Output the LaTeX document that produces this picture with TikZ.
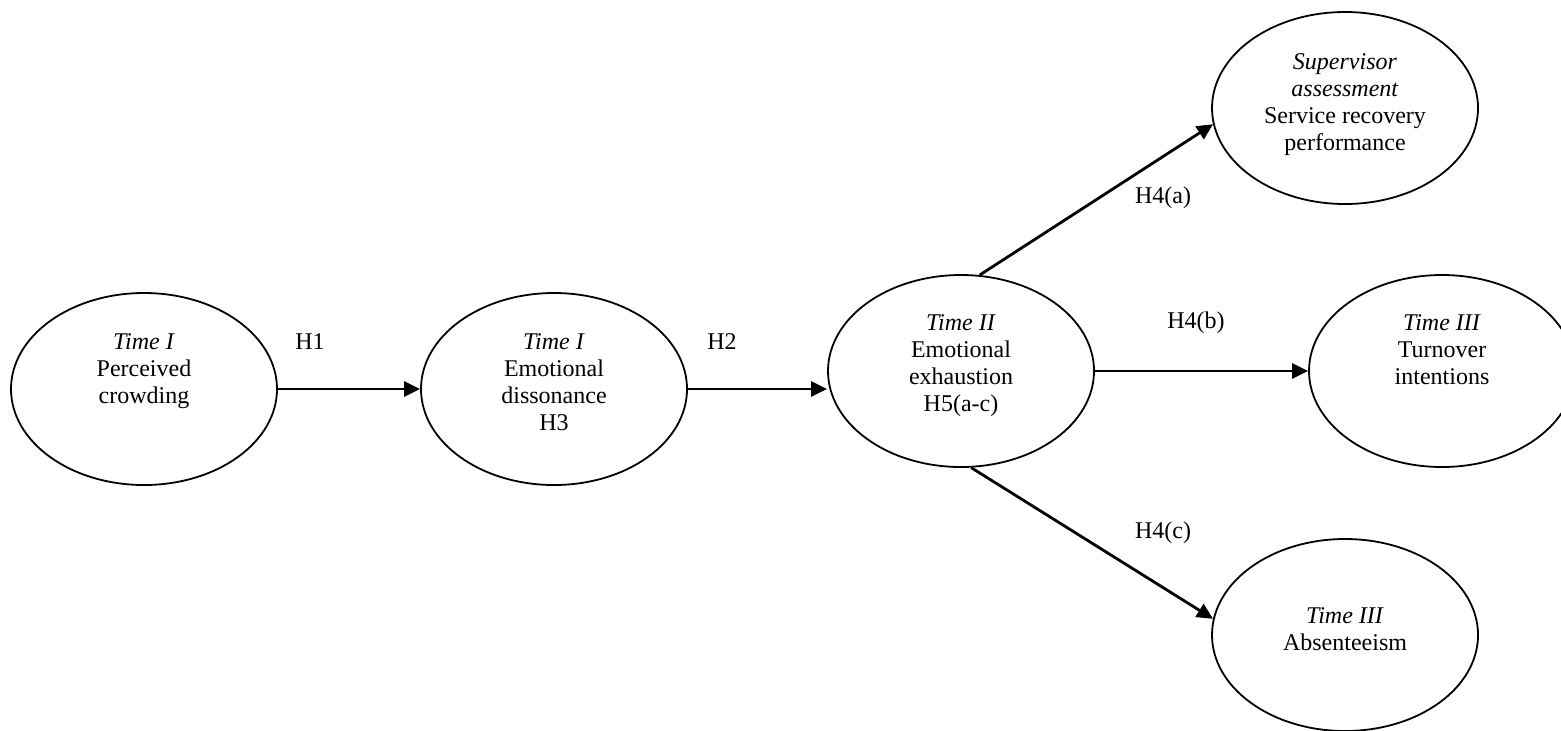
\documentclass[tikz,border=0pt]{standalone}
\usepackage{fontspec}
\setmainfont{Liberation Serif}
\usetikzlibrary{shapes.geometric, arrows.meta, positioning}

\tikzset{
  construct/.style={draw, ellipse, line width=0.9pt, minimum width=133pt, minimum height=96pt, inner sep=0pt},
  caption/.style={font=\fontsize{12}{13.5}\selectfont, align=center, inner sep=0pt},
  link/.style={line width=1.4pt, -{Triangle[length=8pt, width=7.5pt]}}
}

\begin{document}
\begin{tikzpicture}[x=0.5pt, y=-0.5pt]
\useasboundingbox ( 0, 0 ) rectangle ( 1561, 730 );

% Constructs
\node[construct] (crowd) at ( 144, 389 ) {};
\node[construct] (diss) at ( 554, 389 ) {};
\node[construct] (exh) at ( 961, 371 ) {};
\node[construct] (sup) at ( 1345, 108 ) {};
\node[construct] (turn) at ( 1442, 371 ) {};
\node[construct] (abs) at ( 1345, 635 ) {};

% Construct texts
\node[caption, below=20.5pt of crowd.north] (crowdtext) {\textit{Time I}\\Perceived\\crowding};
\node[caption, below=20.5pt of diss.north] (disstext) {\textit{Time I}\\Emotional\\dissonance\\H3};
\node[caption, below=20pt of exh.north] (exhtext) {\textit{Time II}\\Emotional\\exhaustion\\H5(a-c)};
\node[caption, below=21pt of sup.north] (suptext) {\textit{Supervisor}\\\textit{assessment}\\Service recovery\\performance};
\node[caption, below=20pt of turn.north] (turntext) {\textit{Time III}\\Turnover\\intentions};
\node[caption, below=34.5pt of abs.north] (abstext) {\textit{Time III}\\Absenteeism};

% Hypothesised paths
\draw[link] (crowd.east) -- (diss.west);
\draw[link] (diss.east) -- (exh.west |- diss.east);
\draw[link] (exh.79) -- (sup.187);
\draw[link] (exh.east) -- (turn.west);
\draw[link] (exh.276) -- (abs.173);

% Hypothesis labels
\node[caption] (h1) at ( 310, 342 ) {H1};
\node[caption] (h2) at ( 722, 342 ) {H2};
\node[caption] (h4a) at ( 1163, 198 ) {H4(a)};
\node[caption] (h4b) at ( 1196, 323 ) {H4(b)};
\node[caption] (h4c) at ( 1163, 533 ) {H4(c)};

\end{tikzpicture}
\end{document}
